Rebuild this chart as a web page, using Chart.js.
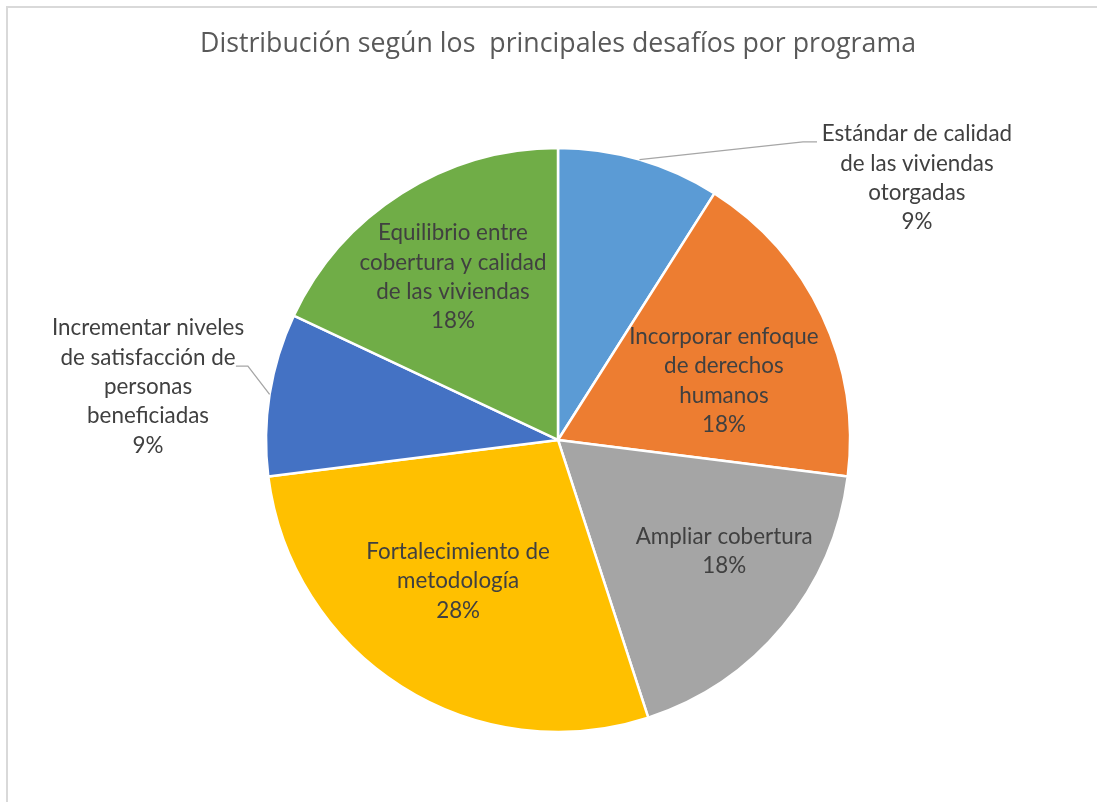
<!DOCTYPE html>
<html>
<head>
<meta charset="utf-8">
<script src="https://cdn.jsdelivr.net/npm/chart.js@4/dist/chart.umd.min.js"></script>
<style>
html,body{margin:0;padding:0;background:#fff;overflow:hidden;}
#wrap{position:relative;width:1097px;height:802px;overflow:hidden;background:#fff;}
#frame{position:absolute;left:6px;top:6px;width:1200px;height:900px;border:2px solid #d9d9d9;box-sizing:border-box;}
#c{position:absolute;left:0;top:0;}
</style>
</head>
<body>
<div id="wrap"><div id="frame"></div><canvas id="c" width="1097" height="802"></canvas></div>
<script>
const chartTitle = 'Distribución según los  principales desafíos por programa';
const categories = [
  ['Estándar de calidad', 'de las viviendas', 'otorgadas'],
  ['Incorporar enfoque', 'de derechos', 'humanos'],
  ['Ampliar cobertura'],
  ['Fortalecimiento de', 'metodología'],
  ['Incrementar niveles', 'de satisfacción de', 'personas', 'beneficiadas'],
  ['Equilibrio entre', 'cobertura y calidad', 'de las viviendas']
];
const values = [9, 18, 18, 28, 9, 18];
const colors = ['#5B9BD5', '#ED7D31', '#A5A5A5', '#FFC000', '#4472C4', '#70AD47'];

const FONT = 'Lato, "Open Sans", sans-serif';
const TITLE_FONT = '"Open Sans", Lato, sans-serif';

const sliceLabels = {
  id: 'sliceLabels',
  afterDatasetsDraw(chart, args, opts) {
    const ctx = chart.ctx;
    const meta = chart.getDatasetMeta(0);
    const total = values.reduce((a, b) => a + b, 0);
    ctx.save();
    ctx.font = opts.fontSize + 'px ' + FONT;
    ctx.fillStyle = opts.color;
    ctx.textAlign = 'center';
    ctx.textBaseline = 'middle';
    meta.data.forEach((arc, i) => {
      const p = arc.getProps(['x', 'y', 'startAngle', 'endAngle', 'outerRadius'], true);
      const R = p.outerRadius;
      const mid = (p.startAngle + p.endAngle) / 2;
      const pl = opts.place[i];
      let cx, cy;
      if (pl.outside) {
        cx = p.x + pl.lx * R;
        cy = p.y + pl.ly * R;
        ctx.save();
        ctx.strokeStyle = opts.leaderColor;
        ctx.lineWidth = 1.3;
        ctx.beginPath();
        ctx.moveTo(p.x + Math.cos(mid) * R, p.y + Math.sin(mid) * R);
        ctx.lineTo(p.x + pl.bx * R, p.y + pl.by * R);
        ctx.lineTo(p.x + pl.ex * R, p.y + pl.by * R);
        ctx.stroke();
        ctx.restore();
      } else {
        const ang = mid + pl.da * Math.PI / 180;
        cx = p.x + Math.cos(ang) * R * pl.r;
        cy = p.y + Math.sin(ang) * R * pl.r;
      }
      const lines = categories[i].concat([Math.round(values[i] / total * 100) + '%']);
      const n = lines.length;
      lines.forEach((t, j) => {
        ctx.fillText(t, cx, cy + (j - (n - 1) / 2) * opts.lineHeight);
      });
    });
    ctx.restore();
  }
};

new Chart(document.getElementById('c'), {
  type: 'pie',
  data: {
    labels: categories.map(c => c.join(' ')),
    datasets: [{
      data: values,
      backgroundColor: colors,
      borderColor: '#ffffff',
      borderWidth: 2.5
    }]
  },
  options: {
    responsive: false,
    animation: false,
    devicePixelRatio: 1,
    radius: 292,
    layout: { padding: { left: 200, right: 181, top: 0, bottom: 70 } },
    plugins: {
      legend: { display: false },
      tooltip: { enabled: false },
      title: {
        display: true,
        text: chartTitle,
        color: '#595959',
        font: { family: TITLE_FONT, size: 27.8, weight: 'normal', lineHeight: 1.2 },
        padding: { top: 27, bottom: 87.6 }
      },
      sliceLabels: {
        fontSize: 22.4,
        lineHeight: 29.3,
        color: '#404040',
        leaderColor: '#A6A6A6',
        place: [
          { outside: true, lx: 1.229, ly: -0.897, bx: 0.839, by: -1.021, ex: 0.887 },
          { r: 0.603, da: 5.6 },
          { r: 0.685, da: -5.8 },
          { r: 0.592, da: 2.9 },
          { outside: true, lx: -1.404, ly: -0.182, bx: -1.062, by: -0.253, ex: -1.103 },
          { r: 0.664, da: -0.4 }
        ]
      }
    }
  },
  plugins: [sliceLabels]
});
</script>
</body>
</html>
